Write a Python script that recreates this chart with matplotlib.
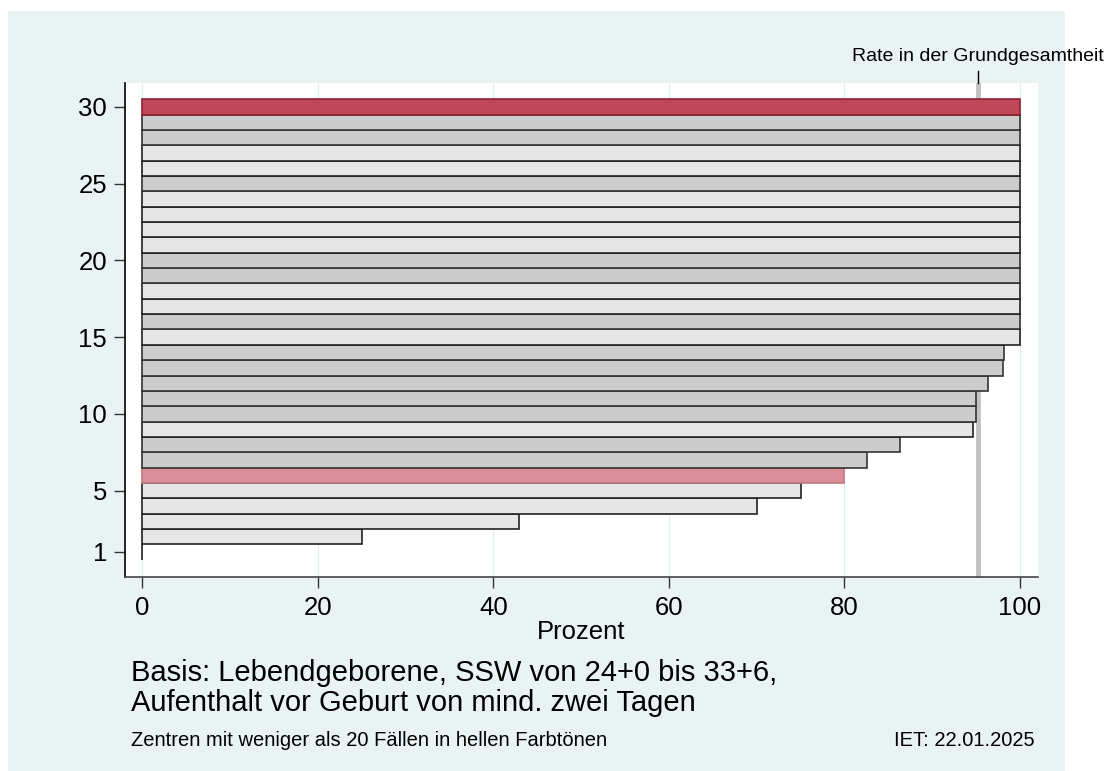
import matplotlib.pyplot as plt
from matplotlib.patches import Rectangle

plt.rcParams['font.family'] = ['Liberation Sans', 'DejaVu Sans']

# centres 1..30, sorted by rate (Prozent)
centres = list(range(1, 31))
rates = [0, 25, 42.9, 70, 75, 80, 82.6, 86.3, 94.7, 95.0,
         95.0, 96.3, 98.1, 98.2, 100, 100, 100, 100, 100, 100,
         100, 100, 100, 100, 100, 100, 100, 100, 100, 100]
# "light" = fewer than 20 cases, "dark" = 20+ cases, highlighted centre in red
kinds = ['light', 'light', 'light', 'light', 'light', 'hl_light', 'dark', 'dark', 'light', 'dark',
         'dark', 'dark', 'dark', 'dark', 'light', 'dark', 'light', 'light', 'dark', 'dark',
         'light', 'light', 'light', 'light', 'dark', 'light', 'light', 'dark', 'dark', 'hl_dark']
overall_rate = 95.2

fill = {'light': '#e6e6e6', 'dark': '#cccccc', 'hl_light': '#d98e98', 'hl_dark': '#bf4757'}
edge = {'light': '#222222', 'dark': '#333333', 'hl_light': '#c07884', 'hl_dark': '#8e2233'}

fig = plt.figure(figsize=(11.09, 7.71), dpi=100)
fig.patch.set_facecolor('white')
fig.patches.append(Rectangle((8 / 1109, 0.0), 1057 / 1109, 1 - 11 / 771,
                             transform=fig.transFigure, facecolor='#eaf3f3',
                             edgecolor='none', zorder=-10))

ax = fig.add_axes([125 / 1109, 1 - 577 / 771, 913 / 1109, 494 / 771])
ax.set_facecolor('white')

for x in [0, 20, 40, 60, 80, 100]:
    ax.axvline(x, color='#e3eef0', lw=1, zorder=0)
ax.axvline(overall_rate, color='#c2c2c2', lw=3.5, zorder=1)

ax.barh(centres, rates, height=1.0,
        color=[fill[k] for k in kinds],
        edgecolor=[edge[k] for k in kinds], linewidth=1.2, zorder=2)

ax.set_xlim(-1.95, 102.05)
ax.set_ylim(-0.63, 31.56)
ax.set_xticks([0, 20, 40, 60, 80, 100])
ax.set_yticks([1, 5, 10, 15, 20, 25, 30])
ax.tick_params(axis='both', labelsize=18.5, length=8, width=1, color='#333333')
ax.tick_params(axis='x', pad=6)
ax.tick_params(axis='y', pad=5)
for s in ['top', 'right']:
    ax.spines[s].set_visible(False)
ax.spines['left'].set_color('#000000')
ax.spines['bottom'].set_color('#444444')
ax.spines['left'].set_linewidth(1.2)
ax.spines['bottom'].set_linewidth(1.2)
ax.set_xlabel('Prozent', fontsize=18.5, labelpad=0)

trans = ax.get_xaxis_transform()
ax.plot([overall_rate, overall_rate], [1.0, 1.024], color='black', lw=1,
        transform=trans, clip_on=False)
ax.text(overall_rate, 1.053, 'Rate in der Grundgesamtheit', transform=trans,
        ha='center', va='center', fontsize=14)

fig.text(131 / 1109, 1 - 673 / 771, 'Basis: Lebendgeborene, SSW von 24+0 bis 33+6,',
         fontsize=21, va='center', ha='left')
fig.text(131 / 1109, 1 - 703 / 771, 'Aufenthalt vor Geburt von mind. zwei Tagen',
         fontsize=21, va='center', ha='left')
fig.text(131 / 1109, 1 - 740 / 771, 'Zentren mit weniger als 20 Fällen in hellen Farbtönen',
         fontsize=14.5, va='center', ha='left')
fig.text(1035 / 1109, 1 - 740 / 771, 'IET: 22.01.2025',
         fontsize=14.5, va='center', ha='right')

fig.savefig('out.png', dpi=100)
